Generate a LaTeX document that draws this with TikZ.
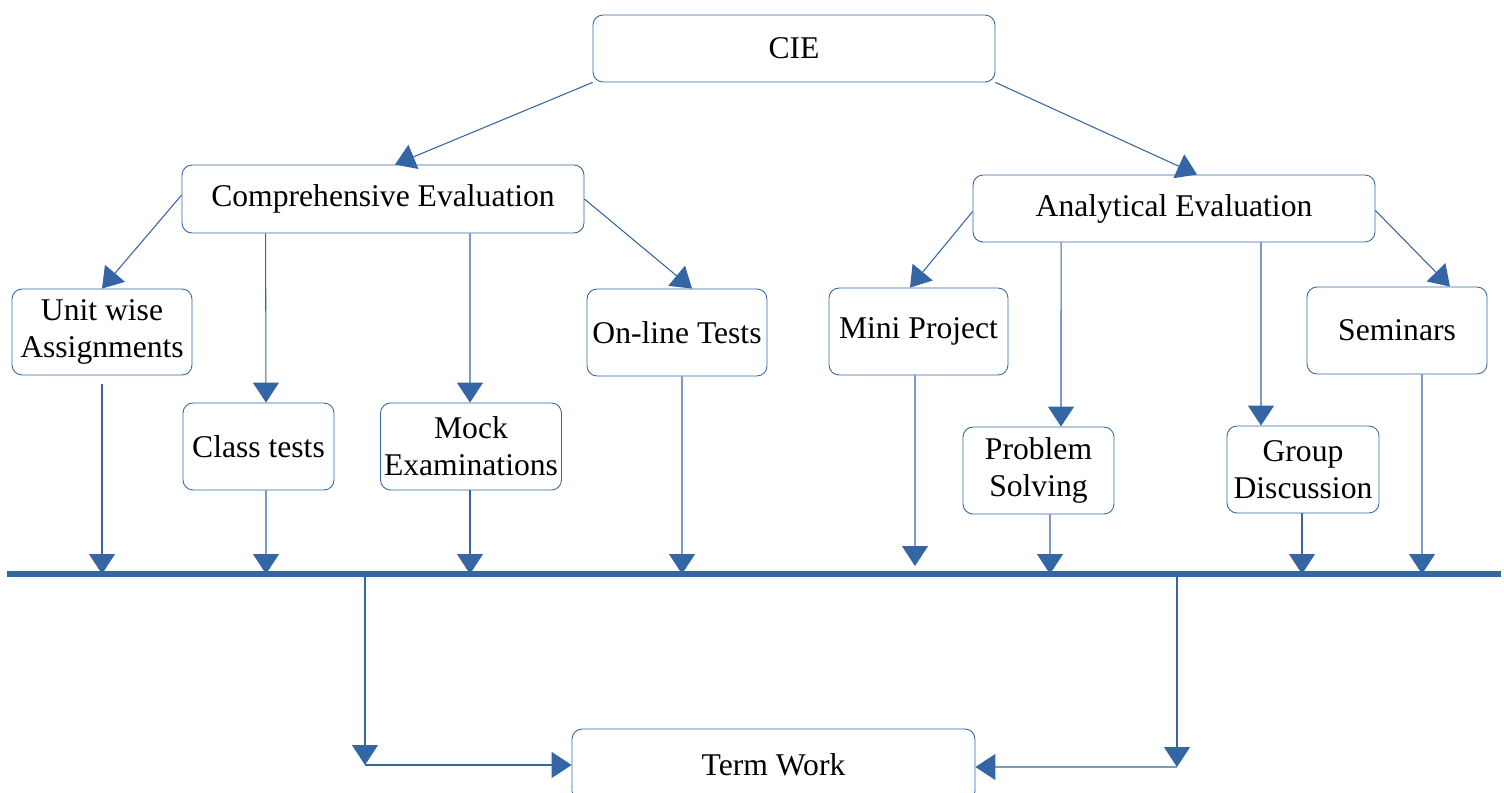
\documentclass[tikz,border=0pt]{standalone}
\usepackage{fontspec}
\setmainfont{Liberation Serif}
\usepackage{tikz}
\usetikzlibrary{arrows.meta}
\usetikzlibrary{positioning}
\usetikzlibrary{calc}
\definecolor{boxblue}{HTML}{3465A4}
\definecolor{lineblue}{HTML}{6F93C4}

\begin{document}
\begin{tikzpicture}[x=0.02cm, y=-0.02cm,
				internal/.style={draw=boxblue, line width=0.5pt, rectangle, rounded corners=0.2cm, inner sep=2pt, align=center, font=\fontsize{18}{21}\selectfont},
				arr/.style={draw=lineblue, line width=0.6pt, -{Triangle[length=0.4cm, width=0.52cm, fill=boxblue]}, boxblue},
				bar/.style={draw=boxblue, line width=0.12cm}]
				\useasboundingbox (0,0) rectangle (1504,793);
				
				\node[internal, minimum width=8.04cm, minimum height=1.34cm](cie) at (794,48.5) {CIE};
				\node[internal, minimum width=8.04cm, minimum height=1.36cm](comp) at (383,199) {Comprehensive Evaluation};
				\node[internal, minimum width=8.04cm, minimum height=1.34cm](anal) at (1174,208.5) {Analytical Evaluation};
				
				\node[internal, minimum width=3.6cm, minimum height=1.72cm](unit) at (102,332) {Unit wise\\Assignments};
				\node[internal, minimum width=3.02cm, minimum height=1.74cm](class) at (258.5,446.5) {Class tests};
				\node[internal, minimum width=3.6cm, minimum height=1.74cm](mock) at (471,446.5) {Mock\\Examinations};
				\node[internal, minimum width=3.6cm, minimum height=1.74cm](online) at (677,332.5) {On-line Tests};
				\node[internal, minimum width=3.58cm, minimum height=1.74cm](mini) at (918.5,331.5) {Mini Project};
				\node[internal, minimum width=3.02cm, minimum height=1.74cm](prob) at (1038.5,470.5) {Problem\\Solving};
				\node[internal, minimum width=3.04cm, minimum height=1.74cm](group) at (1303,469.5) {Group\\Discussion};
				\node[internal, minimum width=3.6cm, minimum height=1.74cm](sem) at (1397,330.5) {Seminars};
				
				\node[internal, minimum width=8.06cm, minimum height=1.44cm](term) at (773.5,765) {Term Work};
				
				% the common bar
				\coordinate (barL) at (7,574);
				\coordinate (barR) at (1501,574);
				\draw[bar] (barL) -- (barR);
				\coordinate (b1) at (102,574);
				\coordinate (b2) at (266,574);
				\coordinate (b3) at (470,574);
				\coordinate (b4) at (682,574);
				\coordinate (b5) at (915,566);
				\coordinate (b6) at (1050,574);
				\coordinate (b7) at (1302,574);
				\coordinate (b8) at (1422,574);
				\coordinate (t1) at (365,577);
				\coordinate (c1) at (365,765);
				\coordinate (t2) at (1177,577);
				\coordinate (c2) at (1177,767);
				
				\draw[arr] (cie.south west) -- ([xshift=0.24cm]comp.north);
				\draw[arr] (cie.south east) -- ([xshift=0.46cm]anal.north);
				
				\draw[arr] ([yshift=0.08cm]comp.west) -- (unit.north);
				\draw[arr] ([xshift=1.68cm]comp.south west) -- ([xshift=0.15cm]class.north);
				\draw[arr] ([xshift=1.74cm]comp.south) -- ([xshift=-0.02cm]mock.north);
				\draw[arr] (comp.east) -- ([xshift=0.3cm]online.north);
				
				\draw[arr] ([yshift=-0.06cm]anal.west) -- ([xshift=-0.17cm]mini.north);
				\draw[arr] ([xshift=-2.26cm]anal.south) -- ([xshift=0.45cm]prob.north);
				\draw[arr] ([xshift=1.74cm]anal.south) -- ([xshift=-0.84cm]group.north);
				\draw[arr] ([yshift=-0.04cm]anal.east) -- ([xshift=1.06cm]sem.north);
				
				\draw[arr] ([yshift=-0.18cm]unit.south) -- (b1);
				\draw[arr] ([xshift=0.15cm]class.south) -- (b2);
				\draw[arr] ([xshift=-0.02cm]mock.south) -- (b3);
				\draw[arr] ([xshift=0.1cm]online.south) -- (b4);
				\draw[arr] ([xshift=-0.07cm]mini.south) -- (b5);
				\draw[arr] ([xshift=0.23cm]prob.south) -- (b6);
				\draw[arr] ([xshift=-0.02cm]group.south) -- (b7);
				\draw[arr] ([xshift=0.5cm]sem.south) -- (b8);
				
				\draw[arr] (t1) -- (c1);
				\draw[arr] (c1) -- (term.west);
				\draw[arr] (t2) -- (c2);
				\draw[arr] (c2) -- ([yshift=-0.04cm]term.east);
				
			\end{tikzpicture}
\end{document}
